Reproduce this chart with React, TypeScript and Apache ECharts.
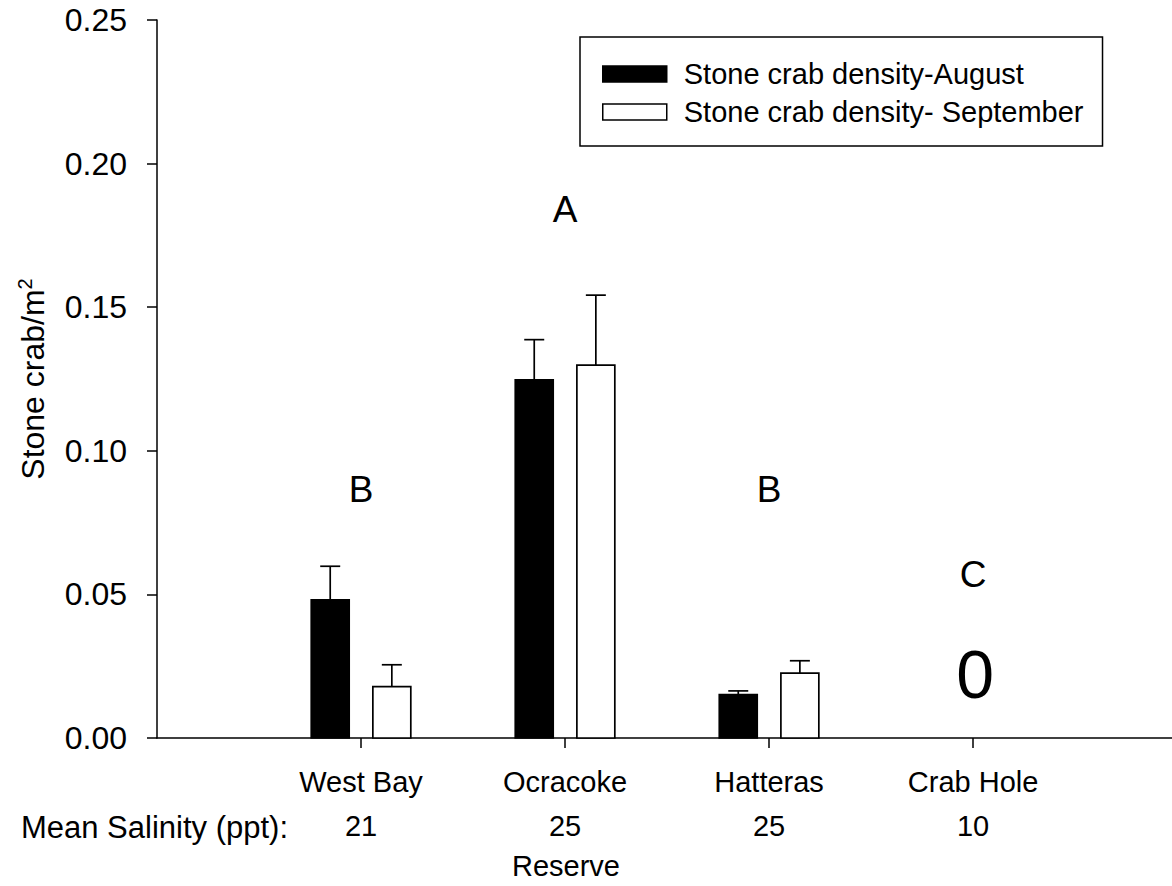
import React, { useEffect, useRef } from "react";
import * as echarts from "echarts";

// Reserves along the x axis and their mean salinity (ppt)
const reserves = ["West Bay", "Ocracoke", "Hatteras", "Crab Hole"];
const salinity = [21, 25, 25, 10];

// Stone crab density (crabs per m²) with standard errors
const augustDensity = [0.0481, 0.1247, 0.0151, 0];
const augustSE = [0.0117, 0.014, 0.0013, 0];
const septemberDensity = [0.0179, 0.1298, 0.0226, 0];
const septemberSE = [0.0076, 0.0244, 0.0043, 0];

// Significance groups and the level at which each letter sits
const groupLetters = ["B", "A", "B", "C"];
const letterLevels = [0.0865, 0.184, 0.0865, 0.057];

const FONT = "Liberation Sans, Arial, sans-serif";
const AUG_NAME = "Stone crab density-August";
const SEP_NAME = "Stone crab density- September";

const BAR_W = 0.186; // bar width, in category units
const BAR_OFFSET = 0.151; // distance of bar centre from tick, in category units
const CAP_HALF = 10; // half width of error-bar cap, px

function barRenderer(offset: number, fill: string) {
  return (params: any, api: any) => {
    const x = api.value(0);
    const v = api.value(1);
    const e = api.value(2);
    if (!v) return { type: "group", children: [] };
    const unit = api.size([1, 0])[0];
    const base = api.coord([x, 0]);
    const top = api.coord([x, v]);
    const errTop = api.coord([x, v + e]);
    const w = unit * BAR_W;
    const cx = base[0] + offset * unit;
    return {
      type: "group",
      children: [
        {
          type: "line",
          shape: { x1: cx, y1: top[1], x2: cx, y2: errTop[1] },
          style: { stroke: "#000", lineWidth: 1.7 },
        },
        {
          type: "line",
          shape: { x1: cx - CAP_HALF, y1: errTop[1], x2: cx + CAP_HALF, y2: errTop[1] },
          style: { stroke: "#000", lineWidth: 1.7 },
        },
        {
          type: "rect",
          shape: { x: cx - w / 2, y: top[1], width: w, height: base[1] - top[1] },
          style: { fill, stroke: "#000", lineWidth: 1.7 },
        },
      ],
    };
  };
}

export default function App() {
  const ref = useRef<HTMLDivElement>(null);

  useEffect(() => {
    if (!ref.current) return;
    const chart = echarts.init(ref.current, null, { renderer: "svg" });

    const xs = reserves.map((_, i) => i + 1);

    chart.setOption({
      animation: false,
      backgroundColor: "#fff",
      textStyle: { fontFamily: FONT, color: "#000" },
      grid: { left: 157, top: 20, width: 1015, height: 718, containLabel: false },
      legend: {
        orient: "vertical",
        left: 580,
        top: 37,
        padding: [22, 19, 19, 22],
        itemGap: 8,
        itemWidth: 64,
        itemHeight: 16,
        borderColor: "#000",
        borderWidth: 1.5,
        backgroundColor: "#fff",
        textStyle: { fontFamily: FONT, fontSize: 29, color: "#000", lineHeight: 30, padding: [0, 0, 0, 12] },
        data: [
          { name: AUG_NAME, icon: "rect", itemStyle: { color: "#000", borderColor: "#000", borderWidth: 1.5 } },
          { name: SEP_NAME, icon: "rect", itemStyle: { color: "#fff", borderColor: "#000", borderWidth: 1.5 } },
        ],
      },
      xAxis: {
        type: "value",
        min: 0,
        max: 4.975,
        interval: 1,
        splitLine: { show: false },
        axisLine: { lineStyle: { color: "#000", width: 1.5 } },
        axisTick: { length: 10, lineStyle: { color: "#000", width: 1.5 }, customValues: xs },
        axisLabel: {
          customValues: xs,
          margin: 22,
          formatter: (val: number) => {
            const i = Math.round(val) - 1;
            return `{c|${reserves[i]}}\n{s|${salinity[i]}}`;
          },
          rich: {
            c: { fontFamily: FONT, fontSize: 29, color: "#000", lineHeight: 44 },
            s: { fontFamily: FONT, fontSize: 29, color: "#000", lineHeight: 44 },
          },
        },
      },
      yAxis: {
        type: "value",
        min: 0,
        max: 0.25,
        interval: 0.05,
        splitLine: { show: false },
        axisLine: { show: true, lineStyle: { color: "#000", width: 1.5 } },
        axisTick: { show: true, length: 10, lineStyle: { color: "#000", width: 1.5 } },
        axisLabel: {
          margin: 30,
          fontFamily: FONT,
          fontSize: 32,
          color: "#000",
          formatter: (v: number) => v.toFixed(2),
        },
        name: "{t|Stone crab/m}{s|2}",
        nameLocation: "middle",
        nameRotate: 90,
        nameGap: 106,
        nameTextStyle: {
          rich: {
            t: { fontFamily: FONT, fontSize: 32, color: "#000", lineHeight: 36 },
            s: { fontFamily: FONT, fontSize: 20, color: "#000", lineHeight: 20, verticalAlign: "top" },
          },
        },
      },
      graphic: [
        {
          type: "text",
          x: 288,
          y: 827,
          style: {
            text: "Mean Salinity (ppt):",
            font: `31px ${FONT}`,
            fill: "#000",
            align: "right",
            verticalAlign: "middle",
          },
        },
        {
          type: "text",
          x: 566,
          y: 866,
          style: {
            text: "Reserve",
            font: `29px ${FONT}`,
            fill: "#000",
            align: "center",
            verticalAlign: "middle",
          },
        },
      ],
      series: [
        {
          name: AUG_NAME,
          type: "custom",
          itemStyle: { color: "#000" },
          renderItem: barRenderer(-BAR_OFFSET, "#000"),
          encode: { x: 0, y: [1, 2] },
          data: xs.map((x, i) => [x, augustDensity[i], augustSE[i]]),
          clip: false,
        },
        {
          name: SEP_NAME,
          type: "custom",
          itemStyle: { color: "#fff", borderColor: "#000" },
          renderItem: barRenderer(BAR_OFFSET, "#fff"),
          encode: { x: 0, y: [1, 2] },
          data: xs.map((x, i) => [x, septemberDensity[i], septemberSE[i]]),
          clip: false,
        },
        {
          name: "groups",
          type: "custom",
          silent: true,
          renderItem: (params: any, api: any) => {
            const i = params.dataIndex;
            const p = api.coord([api.value(0), api.value(1)]);
            const base = api.coord([api.value(0), 0]);
            const children: any[] = [
              {
                type: "text",
                x: p[0],
                y: p[1],
                style: {
                  text: groupLetters[i],
                  font: `37px ${FONT}`,
                  fill: "#000",
                  align: "center",
                  verticalAlign: "middle",
                },
              },
            ];
            // Reserves with no crabs in either month get a "0" in place of bars
            if (!augustDensity[i] && !septemberDensity[i]) {
              children.push({
                type: "text",
                x: base[0] + 2,
                y: base[1] - 64,
                style: {
                  text: String(augustDensity[i]),
                  font: `68px ${FONT}`,
                  fill: "#000",
                  align: "center",
                  verticalAlign: "middle",
                },
              });
            }
            return { type: "group", children };
          },
          data: xs.map((x, i) => [x, letterLevels[i]]),
          clip: false,
        },
      ],
    });

    return () => chart.dispose();
  }, []);

  return (
    <div
      ref={ref}
      style={{ position: "absolute", left: 0, top: 0, width: 1172, height: 886 }}
    />
  );
}
